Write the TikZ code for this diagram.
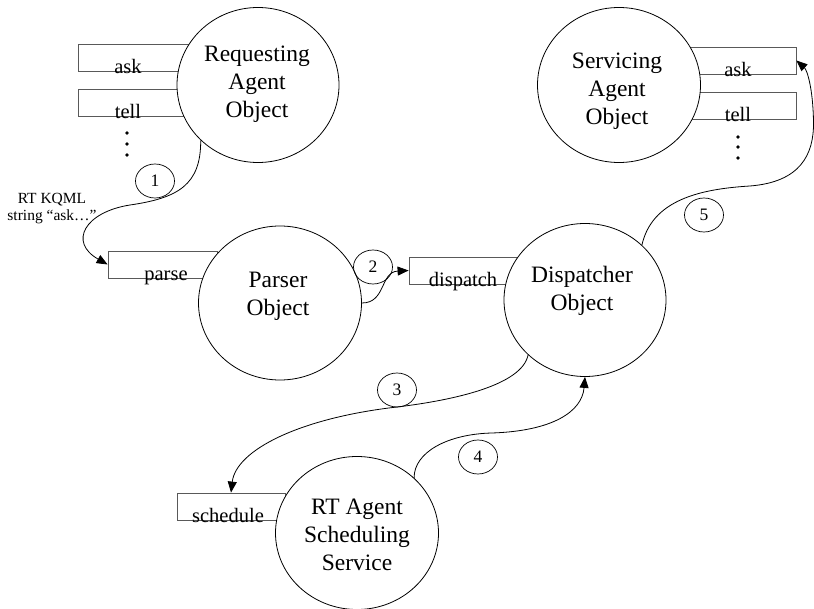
\documentclass[tikz,border=0pt]{standalone}
\usepackage{fontspec}
\setmainfont{Liberation Serif}
\usetikzlibrary{shapes.geometric,arrows.meta}
\tikzset{
  obj/.style={draw=black,fill=white,ellipse,line width=0.8pt,inner sep=0pt},
  objtext/.style={align=center,font=\fontsize{23.5}{28}\selectfont,inner sep=0pt},
  slot/.style={draw=black!65,rectangle,line width=0.8pt,inner sep=0pt,minimum height=27pt},
  slottext/.style={anchor=base,font=\fontsize{20.5}{22}\selectfont,inner sep=0pt},
  num/.style={draw=black,ellipse,line width=0.7pt,inner sep=0pt,minimum width=39pt,minimum height=34pt,font=\fontsize{17.5}{19}\selectfont},
  flow/.style={line width=0.8pt,-{Triangle[length=11pt,width=9pt]}},
  vdot/.style={fill=black}
}
\begin{document}
\begin{tikzpicture}[x=1pt,y=-1pt]
\useasboundingbox (0,0) rectangle (814,609);
% slot boxes
\node[slot,minimum width=122pt] (rask) at (139,57.5) {};
\node[slot,minimum width=122pt] (rtell) at (139,102.5) {};
\node[slot,minimum width=116pt] (sask) at (738,60.5) {};
\node[slot,minimum width=116pt] (stell) at (738,105.5) {};
\node[slot,minimum width=109pt] (parse) at (162.5,264.5) {};
\node[slot,minimum width=116pt] (disp) at (467,270.5) {};
\node[slot,minimum width=108pt] (sched) at (231,506.5) {};
% objects
\node[obj,minimum width=162pt,minimum height=155pt] (req) at (258,85) {};
\node[obj,minimum width=163pt,minimum height=155pt] (svc) at (619,85) {};
\node[obj,minimum width=163pt,minimum height=154pt] (par) at (280,303) {};
\node[obj,minimum width=162pt,minimum height=153pt] (dsp) at (585,300) {};
\node[obj,minimum width=163pt,minimum height=153pt] (rt) at (357,533) {};
% object texts
\node[objtext] (reqT) at (257,84) {Requesting\\Agent\\Object};
\node[objtext] (svcT) at (617,91) {Servicing\\Agent\\Object};
\node[objtext] (parT) at (278,296) {Parser\\Object};
\node[objtext] (dspT) at (582,291) {Dispatcher\\Object};
\node[objtext] (rtT) at (357,535) {RT Agent\\Scheduling\\Service};
% slot texts
\node[slottext] (raskT) at (128,73.5) {ask};
\node[slottext] (rtellT) at (128,118.5) {tell};
\node[slottext] (saskT) at (738,76.5) {ask};
\node[slottext] (stellT) at (738,121.5) {tell};
\node[slottext] (parseT) at (166,280.5) {parse};
\node[slottext] (dispT) at (463,286.5) {dispatch};
\node[slottext] (schedT) at (228,522.5) {schedule};
% dots
\fill[vdot] (127,133) circle (1.9pt) (127,144) circle (1.9pt) (127,155) circle (1.9pt);
\fill[vdot] (738,137) circle (1.9pt) (738,147) circle (1.9pt) (738,158) circle (1.9pt);
% step numbers
\node[num] (n1) at (155,181) {1};
\node[num] (n2) at (373,267) {2};
\node[num] (n3) at (397,390) {3};
\node[num] (n4) at (478,457) {4};
\node[num] (n5) at (704,215) {5};
% label
\node[align=center,font=\fontsize{15.5}{17}\selectfont,inner sep=0pt] (kqml) at (52,209) {RT KQML\\string “ask…”};
% flows
\draw[flow] (req.224) .. controls (201,185) and (178,198) .. (130,205)
  .. controls (85,212) and (68,242) .. (parse.west);
\draw[flow] (par.0) .. controls (386,303) and (380,272) .. (disp.west);
\draw[flow] (dsp.224) .. controls (522,385) and (455,400) .. (397,407)
  .. controls (300,418) and (236,450) .. (sched.north);
\draw[flow] (rt.44) .. controls (414,452) and (448,434) .. (492,433)
  .. controls (552,431) and (582,412) .. (dsp.south);
\draw[flow] (dsp.44) .. controls (652,200) and (700,189) .. (750,186)
  .. controls (800,182) and (814,155) .. (813.5,122)
  .. controls (813,88) and (807,70) .. (sask.east);
\end{tikzpicture}
\end{document}
